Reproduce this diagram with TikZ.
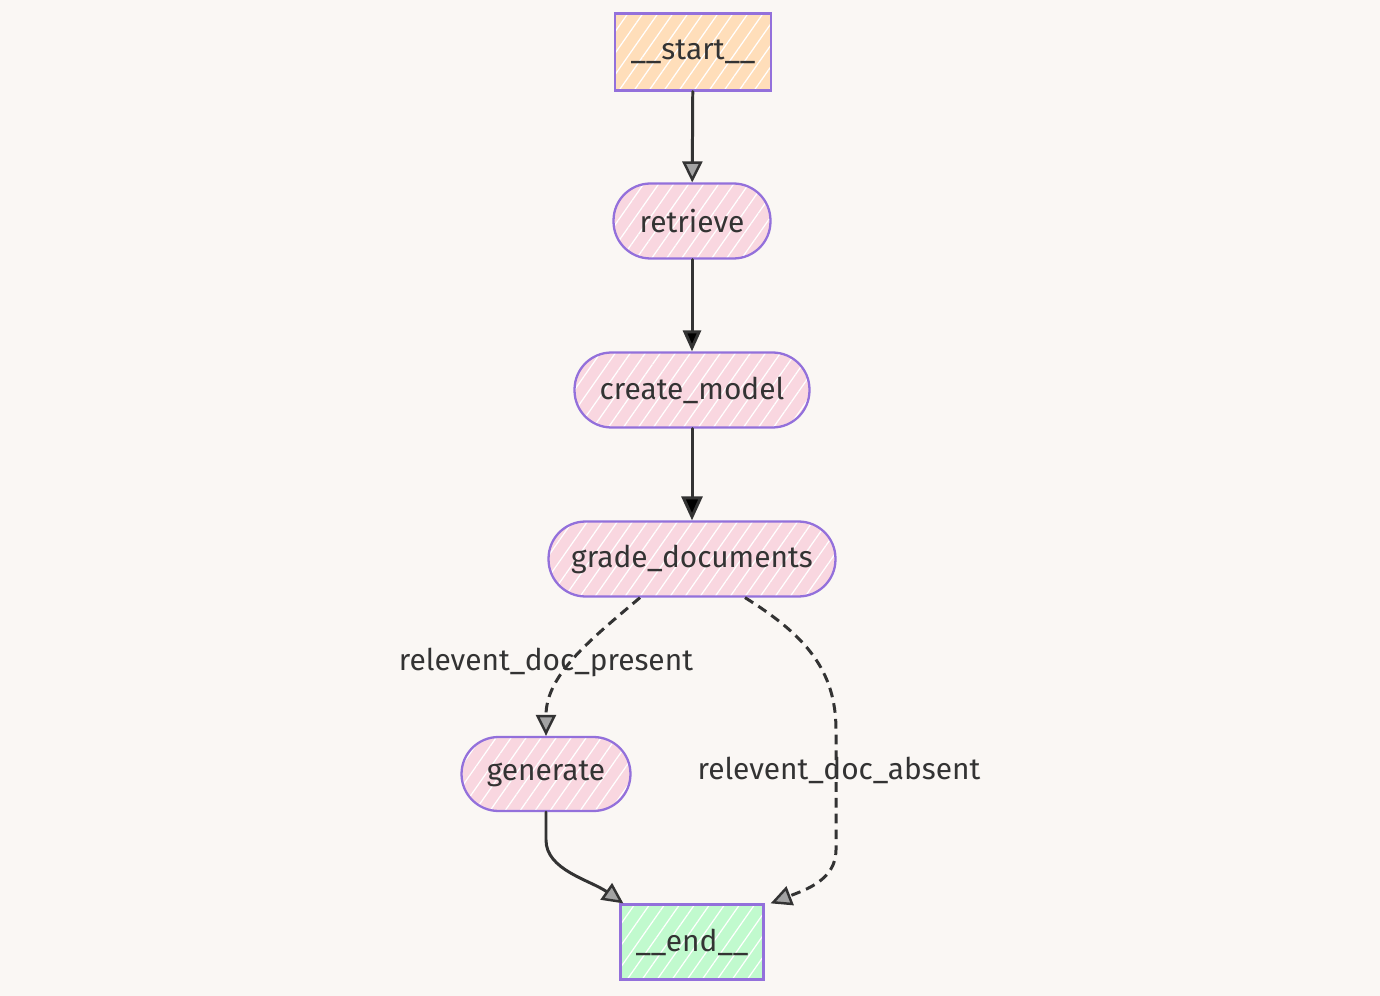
\documentclass[tikz,border=0pt]{standalone}
\usepackage{fontspec}
\setmainfont{Fira Sans}
\usepackage{xcolor}
\usepackage{tikz}
\usetikzlibrary{arrows.meta}
\usetikzlibrary{patterns.meta}
\definecolor{bgcol}{RGB}{250,247,244}
\definecolor{inkcol}{RGB}{51,51,51}
\definecolor{linecol}{RGB}{147,112,219}
\definecolor{pinkcol}{RGB}{249,215,224}
\definecolor{peachcol}{RGB}{255,222,186}
\definecolor{mintcol}{RGB}{193,250,206}

\tikzset{
  sketch/.style={preaction={fill=#1},
    preaction={pattern={Lines[angle=55,distance=7pt,line width=0.7pt]},pattern color=white},
    draw=linecol, line width=1.3pt, text=inkcol, font=\fontsize{17}{20}\selectfont,
    minimum height=1.5cm, inner sep=0pt},
  pill/.style={sketch=pinkcol, rounded corners=0.74cm},
  flow/.style={draw=inkcol, line width=1.7pt, line cap=round},
  shut/.style={-{Triangle[length=0.42cm,width=0.36cm]}},
  hollow/.style={-{Triangle[fill=inkcol!45,length=0.42cm,width=0.4cm,line width=1.4pt]}},
  cond/.style={dash pattern=on 5.5pt off 3.5pt, line cap=butt},
  lbl/.style={text=inkcol, font=\fontsize{17}{20}\selectfont, inner sep=0pt}
}

\begin{document}
\begin{tikzpicture}[x=0.02cm,y=-0.02cm]
  \useasboundingbox[fill=bgcol] (0,0) rectangle (1380,996);

  \node[sketch=peachcol, minimum width=3.12cm, minimum height=1.54cm] (start) at (693,52) {\_\_start\_\_};
  \node[pill, minimum width=3.14cm] (retrieve) at (692,221) {retrieve};
  \node[pill, minimum width=4.7cm] (model) at (692,390) {create\_model};
  \node[pill, minimum width=5.74cm] (grade) at (692,559) {grade\_documents};
  \node[pill, minimum width=3.38cm, minimum height=1.48cm] (gen) at (546,774) {generate};
  \node[sketch=mintcol, minimum width=2.86cm] (end) at (692,942) {\_\_end\_\_};

  \node[lbl] (present) at (546,662) {relevent\_doc\_present};
  \node[lbl] (absent) at (839,770) {relevent\_doc\_absent};

  \path[flow]
    (start) edge [hollow] (retrieve)
    (retrieve) edge [shut] (model)
    (model) edge [shut, -{Triangle[length=0.48cm,width=0.42cm]}] (grade);

  \draw[flow, cond, hollow] ([xshift=-1.04cm]grade.south)
    .. controls (590,640) and (546,675) .. (gen.north);
  \draw[flow, cond, hollow] ([xshift=1.06cm]grade.south)
    .. controls (805,635) and (836,670) .. (836,730)
    -- (836,850) .. controls (836,880) and (805,890) .. ([xshift=0.12cm]end.north east);
  \draw[flow, hollow] (gen.south) -- (546,840)
    .. controls (546,870) and (590,880) .. ([xshift=0.08cm]end.north west);
\end{tikzpicture}
\end{document}
